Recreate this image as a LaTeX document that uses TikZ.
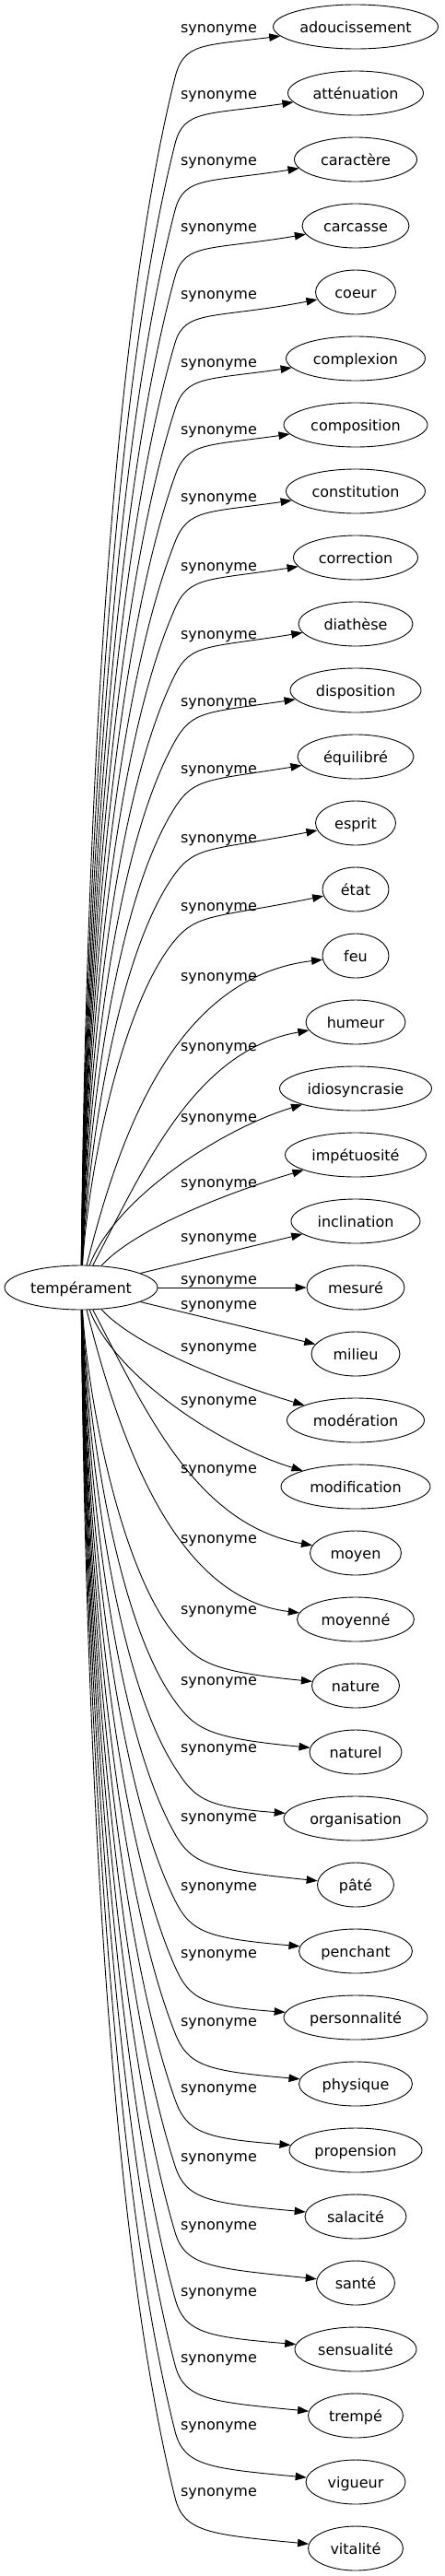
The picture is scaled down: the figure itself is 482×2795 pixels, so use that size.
\documentclass[tikz,border=0pt]{standalone}
\usepackage{fontspec}
\setmainfont{DejaVu Sans}
\usetikzlibrary{arrows.meta,shapes.geometric}
\begin{document}
\begin{tikzpicture}[x=1pt,y=-1pt,
  every node/.style={font=\fontsize{16}{19}\selectfont, text height=12pt, text depth=0pt},
  word/.style={draw, ellipse, line width=0.9pt, inner sep=0pt, minimum height=48pt},
  lab/.style={inner sep=0pt},
  edge/.style={draw, line width=0.9pt, -{Triangle[length=12pt,width=8.5pt]}}]
\useasboundingbox (0,0) rectangle (482,2795);
\node[word, minimum width=166pt] (src) at (88,1397) {tempérament};
\foreach \i/\txt/\w/\ly in {
 0/adoucissement/179/29, 1/atténuation/147/101, 2/caractère/133/173, 3/carcasse/116/245,
 4/coeur/87/318, 5/complexion/151/392, 6/composition/156/465, 7/constitution/151/538,
 8/correction/135/613, 9/diathèse/124/687, 10/disposition/142/760, 11/équilibré/126/833,
 12/esprit/87/908, 13/état/72/982, 14/feu/72/1058, 15/humeur/108/1134,
 16/idiosyncrasie/165/1211, 17/impétuosité/153/1282, 18/inclination/140/1341, 19/mesuré/106/1387,
 20/milieu/96/1414, 21/modération/149/1460, 22/modification/162/1518, 23/moyen/99/1592,
 24/moyenné/127/1668, 25/nature/95/1745, 26/naturel/100/1822, 27/organisation/156/1895,
 28/pâté/83/1970, 29/penchant/123/2045, 30/personnalité/156/2118, 31/physique/123/2192,
 32/propension/144/2264, 33/salacité/110/2339, 34/santé/85/2413, 35/sensualité/132/2485,
 36/trempé/103/2557, 37/vigueur/108/2630, 38/vitalité/103/2702} {
  \pgfmathsetmacro\ty{29+72*\i}
  \node[word, minimum width=\w pt] (t\i) at (386,\ty) {\txt};
  \node[lab] (l\i) at (237.5,\ly) {synonyme};
}
\foreach \i/\w in {0/179,1/147,2/133,3/116,4/87,5/151,6/156,7/151,8/135,9/124,10/142,11/126,12/87,13/72,
  25/95,26/100,27/156,28/83,29/123,30/156,31/123,32/144,33/110,34/85,35/132,36/103,37/108,38/103} {
  \pgfmathsetmacro\ty{29+72*\i}
  \pgfmathsetmacro\sg{\ty<1397 ? -1 : 1}
  \pgfmathsetmacro\dd{abs(1397-\ty)}
  \pgfmathsetmacro\Sy{1397+24*\sg}
  \pgfmathsetmacro\Vy{\ty-55*\sg}
  \pgfmathsetmacro\tht{14+26*((1368-\dd)/936)^2}
  \pgfmathsetmacro\ux{sin(\tht)}
  \pgfmathsetmacro\uy{\sg*cos(\tht)}
  \pgfmathsetmacro\Ll{abs(\Sy-\Vy)}
  \pgfmathsetmacro\cAx{92+4*(1368-\dd)/936}
  \pgfmathsetmacro\cAy{\Sy+\sg*0.3*\Ll}
  \pgfmathsetmacro\cBx{190-0.25*\Ll*\ux}
  \pgfmathsetmacro\cBy{\Vy-0.25*\Ll*\uy}
  \pgfmathsetmacro\cCx{190+38.5*\ux}
  \pgfmathsetmacro\cCy{\Vy+38.5*\uy}
  \pgfmathsetmacro\xw{386-\w/2}
  \pgfmathsetmacro\mm{0.75*(\xw-190)}
  \pgfmathsetmacro\ph{\sg<0 ? 15 : 8}
  \pgfmathsetmacro\cDx{\xw-\mm*cos(\ph)}
  \pgfmathsetmacro\cDy{\ty-\sg*\mm*sin(\ph)}
  \draw[edge] (src) .. controls (\cAx,\cAy) and (\cBx,\cBy) .. (190,\Vy) .. controls (\cCx,\cCy) and (\cDx,\cDy) .. (t\i);
}
\draw[edge] (src) .. controls (130,1230) and (190,1060) .. (t14);
\draw[edge] (src) .. controls (155,1270) and (210,1140) .. (t15);
\draw[edge] (src) .. controls (125,1300) and (240,1225) .. (t16);
\draw[edge] (src) .. controls (150,1330) and (260,1290) .. (t17);
\draw[edge] (src) -- (t18);
\draw[edge] (src) -- (t19);
\draw[edge] (src) -- (t20);
\draw[edge] (src) .. controls (150,1464) and (260,1504) .. (t21);
\draw[edge] (src) .. controls (125,1494) and (240,1569) .. (t22);
\draw[edge] (src) .. controls (155,1524) and (210,1654) .. (t23);
\draw[edge] (src) .. controls (130,1564) and (190,1734) .. (t24);
\end{tikzpicture}
\end{document}
